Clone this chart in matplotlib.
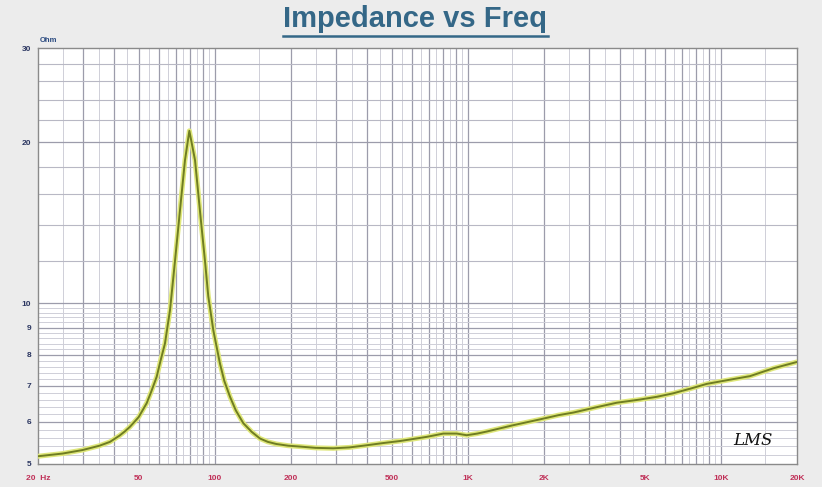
import matplotlib
matplotlib.use("Agg")
import matplotlib.pyplot as plt
import numpy as np

# ---- data ----
freq_hz = [20, 25, 30, 35, 38.5, 42, 44, 46.2, 50, 53.8, 56, 58.9, 61, 63.5, 66.5,
           69.6, 72.8, 76.2, 79.3, 83.5, 87.3, 91.4, 94.2, 98.6, 104.8, 109, 114.8,
           121, 129.6, 140, 150.8, 162, 175, 195, 217, 250, 294, 340, 398, 460, 539,
           610, 688, 800, 904, 989, 1090, 1187, 1513, 1929, 2279, 2612, 3200, 3877,
           4790, 5600, 6486, 7600, 8792, 10700, 13037, 16110, 20000]
impedance_ohm = [5.17, 5.23, 5.31, 5.41, 5.5, 5.65, 5.75, 5.87, 6.12, 6.5, 6.82, 7.28,
                 7.8, 8.4, 9.7, 12.0, 14.9, 18.5, 21.0, 18.5, 14.9, 12.0, 10.3, 8.9,
                 7.7, 7.15, 6.68, 6.3, 5.96, 5.74, 5.58, 5.5, 5.45, 5.41, 5.39, 5.36,
                 5.35, 5.37, 5.42, 5.47, 5.52, 5.57, 5.62, 5.70, 5.70, 5.66, 5.70,
                 5.75, 5.91, 6.06, 6.17, 6.24, 6.38, 6.51, 6.60, 6.68, 6.78, 6.92,
                 7.06, 7.18, 7.30, 7.55, 7.76]

x_ticks = [20, 50, 100, 200, 500, 1000, 2000, 5000, 10000, 20000]
x_tick_labels = ["20  Hz", "50", "100", "200", "500", "1K", "2K", "5K", "10K", "20K"]
y_ticks = [5, 6, 7, 8, 9, 10, 20, 30]
y_tick_labels = ["5", "6", "7", "8", "9", "10", "20", "30"]

title = "Impedance vs Freq"
unit_label = "Ohm"
brand = "LMS"

# ---- figure ----
W, H = 822, 487
fig = plt.figure(figsize=(W / 100, H / 100), dpi=100, facecolor="#ececec")
L, R, T, B = 38, 797, 48, 464
ax = fig.add_axes([L / W, 1 - B / H, (R - L) / W, (B - T) / H])
ax.set_facecolor("white")
ax.set_xscale("log")
ax.set_yscale("log")
ax.set_xlim(20, 20000)
ax.set_ylim(5, 30)

# grid lines
maj_c, min_c = "#9c9cab", "#cfcfd8"
for dec in [10, 100, 1000, 10000]:
    for m in np.arange(1.0, 10.0, 0.5):
        f = dec * m
        if 20 < f < 20000:
            if float(m).is_integer():
                ax.axvline(f, color=maj_c, lw=0.9, zorder=1)
            else:
                ax.axvline(f, color=min_c, lw=0.7, zorder=1)
for v in np.arange(5.2, 10.0, 0.2):
    if abs(v - round(v)) > 1e-6:
        ax.axhline(v, color=min_c, lw=0.7, zorder=1)
for v in [12, 14, 16, 18, 22, 24, 26, 28]:
    ax.axhline(v, color="#b8b8c4", lw=0.8, zorder=1)
for v in [6, 7, 8, 9, 10, 20]:
    ax.axhline(v, color=maj_c, lw=0.9, zorder=1)

# curve
ax.plot(freq_hz, impedance_ohm, color="#dfe77a", lw=3.6, zorder=3,
        solid_joinstyle="round")
ax.plot(freq_hz, impedance_ohm, color="#6f7d22", lw=1.4, zorder=4,
        solid_joinstyle="round")

ax.xaxis.set_major_locator(matplotlib.ticker.FixedLocator(x_ticks))
ax.xaxis.set_minor_locator(matplotlib.ticker.NullLocator())
ax.set_xticklabels(x_tick_labels)
ax.yaxis.set_major_locator(matplotlib.ticker.FixedLocator(y_ticks))
ax.yaxis.set_minor_locator(matplotlib.ticker.NullLocator())
ax.set_yticklabels(y_tick_labels)
ax.tick_params(axis="both", length=0)
ax.tick_params(axis="x", pad=8, labelsize=6, labelcolor="#c03058")
ax.tick_params(axis="y", pad=5, labelsize=6, labelcolor="#2a3560")
for lab in ax.get_xticklabels() + ax.get_yticklabels():
    lab.set_fontweight("bold")
    lab.set_family("Liberation Sans")

for s in ax.spines.values():
    s.set_color("#8a8a8a")
    s.set_linewidth(1.0)

# title
fig.text(415 / W, 1 - 19 / H, title, ha="center", va="center", fontsize=21,
         fontweight="bold", color="#346787", family="Liberation Sans")
fig.add_artist(plt.Line2D([283 / W, 548 / W], [1 - 36 / H, 1 - 36 / H],
                          color="#346787", lw=1.8))

fig.text(40 / W, 1 - 40 / H, unit_label, ha="left", va="center", fontsize=5.5,
         fontweight="bold", color="#2a4a80", family="Liberation Sans")

ax.text(0.968, 0.035, brand, transform=ax.transAxes, ha="right", va="bottom",
        fontsize=12, style="italic", color="#111111", family="DejaVu Serif",
        zorder=5)

fig.savefig("out.png", dpi=100, facecolor=fig.get_facecolor())
